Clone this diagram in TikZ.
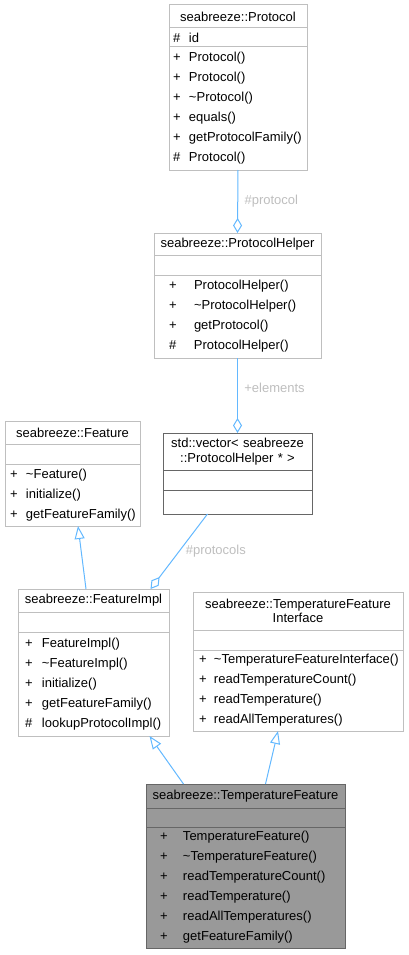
\documentclass[tikz,border=0pt]{standalone}
\usepackage{fontspec}
\setmainfont{Liberation Sans}
\usetikzlibrary{positioning,arrows.meta}
\definecolor{boxgray}{HTML}{BFBFBF}
\definecolor{darkline}{HTML}{666666}
\definecolor{selfill}{HTML}{999999}
\definecolor{edgeblue}{HTML}{63B8FF}
\definecolor{lblgray}{HTML}{BEBEBE}
\hyphenpenalty=10000
\newcommand{\vis}[2][16pt]{\makebox[#1][l]{#2}}

\begin{document}
\begin{tikzpicture}[x=1pt, y=-1pt, font=\fontsize{13}{20}\selectfont,
  box/.style={draw=boxgray, fill=white, line width=1pt, outer sep=0pt, inner ysep=0pt},
  ttl/.style={box, anchor=north west, align=center, inner xsep=0pt},
  part/.style={box, align=left},
  twoline/.style={font=\fontsize{13}{14.5}\selectfont},
  sel/.style={draw=darkline, fill=selfill},
  lbl/.style={text=lblgray, right=3pt},
  agg/.style={draw=edgeblue, line width=1pt, -{Diamond[open, length=15pt, width=9pt]}},
  inh/.style={draw=edgeblue, line width=1pt, -{Triangle[open, length=13pt, width=10pt]}}]
  \useasboundingbox (0,0) rectangle (408,955);

  % seabreeze::Protocol
  \node[ttl, text width=138pt, minimum height=23pt] (protocol) at (169,5) {seabreeze::Protocol};
  \node[part, inner xsep=4pt, text width=130pt, minimum height=19pt, below=0pt of protocol] (protocol-a) {\vis{\#}id};
  \node[part, inner xsep=4pt, text width=130pt, minimum height=123pt, below=0pt of protocol-a] (protocol-m)
    {\vis{+}Protocol()\\\vis{+}Protocol()\\\vis{+}\textasciitilde Protocol()\\\vis{+}equals()\\\vis{+}getProtocolFamily()\\\vis{\#}Protocol()};

  % seabreeze::ProtocolHelper
  \node[ttl, text width=167pt, minimum height=22pt] (helper) at (154,233) {seabreeze::ProtocolHelper};
  \node[part, inner xsep=15pt, text width=137pt, minimum height=20pt, below=0pt of helper] (helper-a) {};
  \node[part, inner xsep=15pt, text width=137pt, minimum height=83pt, below=0pt of helper-a] (helper-m)
    {\vis[25pt]{+}ProtocolHelper()\\\vis[25pt]{+}\textasciitilde ProtocolHelper()\\\vis[25pt]{+}getProtocol()\\\vis[25pt]{\#}ProtocolHelper()};

  % std::vector
  \node[ttl, twoline, draw=darkline, text width=149pt, minimum height=37pt] (vec) at (163,433) {std::vector< seabreeze\\::ProtocolHelper * >};
  \node[part, draw=darkline, inner xsep=5pt, text width=139pt, minimum height=20pt, below=0pt of vec] (vec-a) {};
  \node[part, draw=darkline, inner xsep=5pt, text width=139pt, minimum height=24pt, below=0pt of vec-a] (vec-m) {};

  % seabreeze::Feature
  \node[ttl, text width=135pt, minimum height=23pt] (feat) at (5,421) {seabreeze::Feature};
  \node[part, inner xsep=5pt, text width=125pt, minimum height=20pt, below=0pt of feat] (feat-a) {};
  \node[part, inner xsep=5pt, text width=125pt, minimum height=62pt, below=0pt of feat-a] (feat-m)
    {\vis{+}\textasciitilde Feature()\\\vis{+}initialize()\\\vis{+}getFeatureFamily()};

  % seabreeze::FeatureImpl
  \node[ttl, text width=151pt, minimum height=23pt] (impl) at (18,589) {seabreeze::FeatureImpl};
  \node[part, inner xsep=7pt, text width=137pt, minimum height=20pt, below=0pt of impl] (impl-a) {};
  \node[part, inner xsep=7pt, text width=137pt, minimum height=104pt, below=0pt of impl-a] (impl-m)
    {\vis[17pt]{+}FeatureImpl()\\\vis[17pt]{+}\textasciitilde FeatureImpl()\\\vis[17pt]{+}initialize()\\\vis[17pt]{+}getFeatureFamily()\\\vis[17pt]{\#}lookupProtocolImpl()};

  % seabreeze::TemperatureFeatureInterface
  \node[ttl, twoline, text width=210pt, minimum height=38pt] (tfi) at (193,592) {seabreeze::TemperatureFeature\\Interface};
  \node[part, inner xsep=6pt, text width=198pt, minimum height=20pt, below=0pt of tfi] (tfi-a) {};
  \node[part, inner xsep=6pt, text width=198pt, minimum height=81pt, below=0pt of tfi-a] (tfi-m)
    {\vis[15pt]{+}\textasciitilde TemperatureFeatureInterface()\\\vis[15pt]{+}readTemperatureCount()\\\vis[15pt]{+}readTemperature()\\\vis[15pt]{+}readAllTemperatures()};

  % seabreeze::TemperatureFeature
  \node[ttl, sel, text width=199pt, minimum height=24pt] (tf) at (146,784) {seabreeze::TemperatureFeature};
  \node[part, sel, inner xsep=14pt, text width=171pt, minimum height=19pt, below=0pt of tf] (tf-a) {};
  \node[part, sel, inner xsep=14pt, text width=171pt, minimum height=121pt, below=0pt of tf-a] (tf-m)
    {\vis[23pt]{+}TemperatureFeature()\\\vis[23pt]{+}\textasciitilde TemperatureFeature()\\\vis[23pt]{+}readTemperatureCount()\\\vis[23pt]{+}readTemperature()\\\vis[23pt]{+}readAllTemperatures()\\\vis[23pt]{+}getFeatureFamily()};

  % members
  \draw[agg] (protocol-m.south) -- (helper.north) node[lbl, midway] {\#protocol};
  \draw[agg] (helper-m.south) -- (vec.north) node[lbl, pos=0.4] {+elements};
  \draw[agg] ([xshift=-30pt]vec-m.south) -- ([xshift=57pt]impl.north) node[lbl, midway] {\#protocols};

  % inheritance
  \draw[inh] ([xshift=-7.5pt]impl.north) -- ([xshift=5.5pt]feat-m.south);
  \draw[inh] ([xshift=-62pt]tf.north) -- ([xshift=56pt]impl-m.south);
  \draw[inh] ([xshift=20pt]tf.north) -- ([xshift=-20pt]tfi-m.south);
\end{tikzpicture}
\end{document}
